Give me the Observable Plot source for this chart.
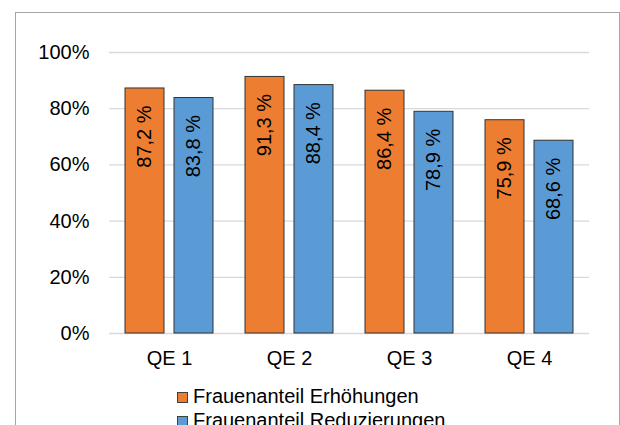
<!DOCTYPE html>
<html><head><meta charset="utf-8">
<script src="https://cdn.jsdelivr.net/npm/d3@7"></script>
<script src="https://cdn.jsdelivr.net/npm/@observablehq/plot@0.6"></script>
<style>
body{margin:0;background:#fff;font-family:"Liberation Sans",Arial,sans-serif;}
#frame{position:absolute;left:15px;top:12px;width:603px;height:430px;border:1px solid #a6a6a6;background:#fff;overflow:hidden}
#frame svg{display:block}
.leg{margin-left:161px;font-size:20px;line-height:24px;color:#000;white-space:nowrap}
.sw{display:inline-block;width:9px;height:9px;border:1px solid #404040;margin-right:5px;}
</style></head><body><div id="frame"></div>
<script>
const categories = ["QE 1", "QE 2", "QE 3", "QE 4"];
const seriesNames = ["Frauenanteil Erhöhungen", "Frauenanteil Reduzierungen"];
const erhoehungen = [87.2, 91.3, 86.4, 75.9];
const reduzierungen = [83.8, 88.4, 78.9, 68.6];
const seriesColors = ["#ED7D31", "#5B9BD5"];
const yTicks = [0, 20, 40, 60, 80, 100];

const seriesValues = [erhoehungen, reduzierungen];
const rows = [];
categories.forEach((c, i) => {
  seriesNames.forEach((s, j) => rows.push({cat: c, series: s, value: seriesValues[j][i]}));
});
const fmt = v => v.toFixed(1).replace(".", ",") + " %";

const chart = Plot.plot({
  width: 603, height: 371,
  marginLeft: 91, marginRight: 28.25, marginTop: 39, marginBottom: 51,
  style: {fontFamily: "Liberation Sans, Arial, sans-serif", fontSize: "20px", color: "#000", background: "transparent"},
  fx: {domain: categories, padding: 0, label: null},
  x: {domain: seriesNames, axis: null, paddingInner: 0.2, paddingOuter: 0.3075},
  y: {domain: [0, 100], label: null},
  color: {domain: seriesNames, range: seriesColors},
  marks: [
    Plot.gridY(yTicks, {stroke: "#d9d9d9", strokeOpacity: 1, strokeWidth: 1.3}),
    Plot.axisY(yTicks, {tickFormat: d => d + "%", tickSize: 0, tickPadding: 20, fontSize: 20, label: null}),
    Plot.axisFx({anchor: "bottom", tickSize: 0, tickPadding: 17, fontSize: 20, label: null}),
    Plot.barY(rows, {fx: "cat", x: "series", y: "value", fill: "series", stroke: "#333", strokeWidth: 1}),
    Plot.text(rows, {fx: "cat", x: "series", y: "value", text: d => fmt(d.value), rotate: -90, textAnchor: "end", dy: 17, fontSize: 20, fill: "#000"})
  ]
});
const frame = document.getElementById("frame");
frame.appendChild(chart);
seriesNames.forEach((s, j) => {
  const row = document.createElement("div");
  row.className = "leg";
  const sw = document.createElement("span");
  sw.className = "sw";
  sw.style.background = seriesColors[j];
  row.appendChild(sw);
  row.appendChild(document.createTextNode(s));
  frame.appendChild(row);
});
</script></body></html>
